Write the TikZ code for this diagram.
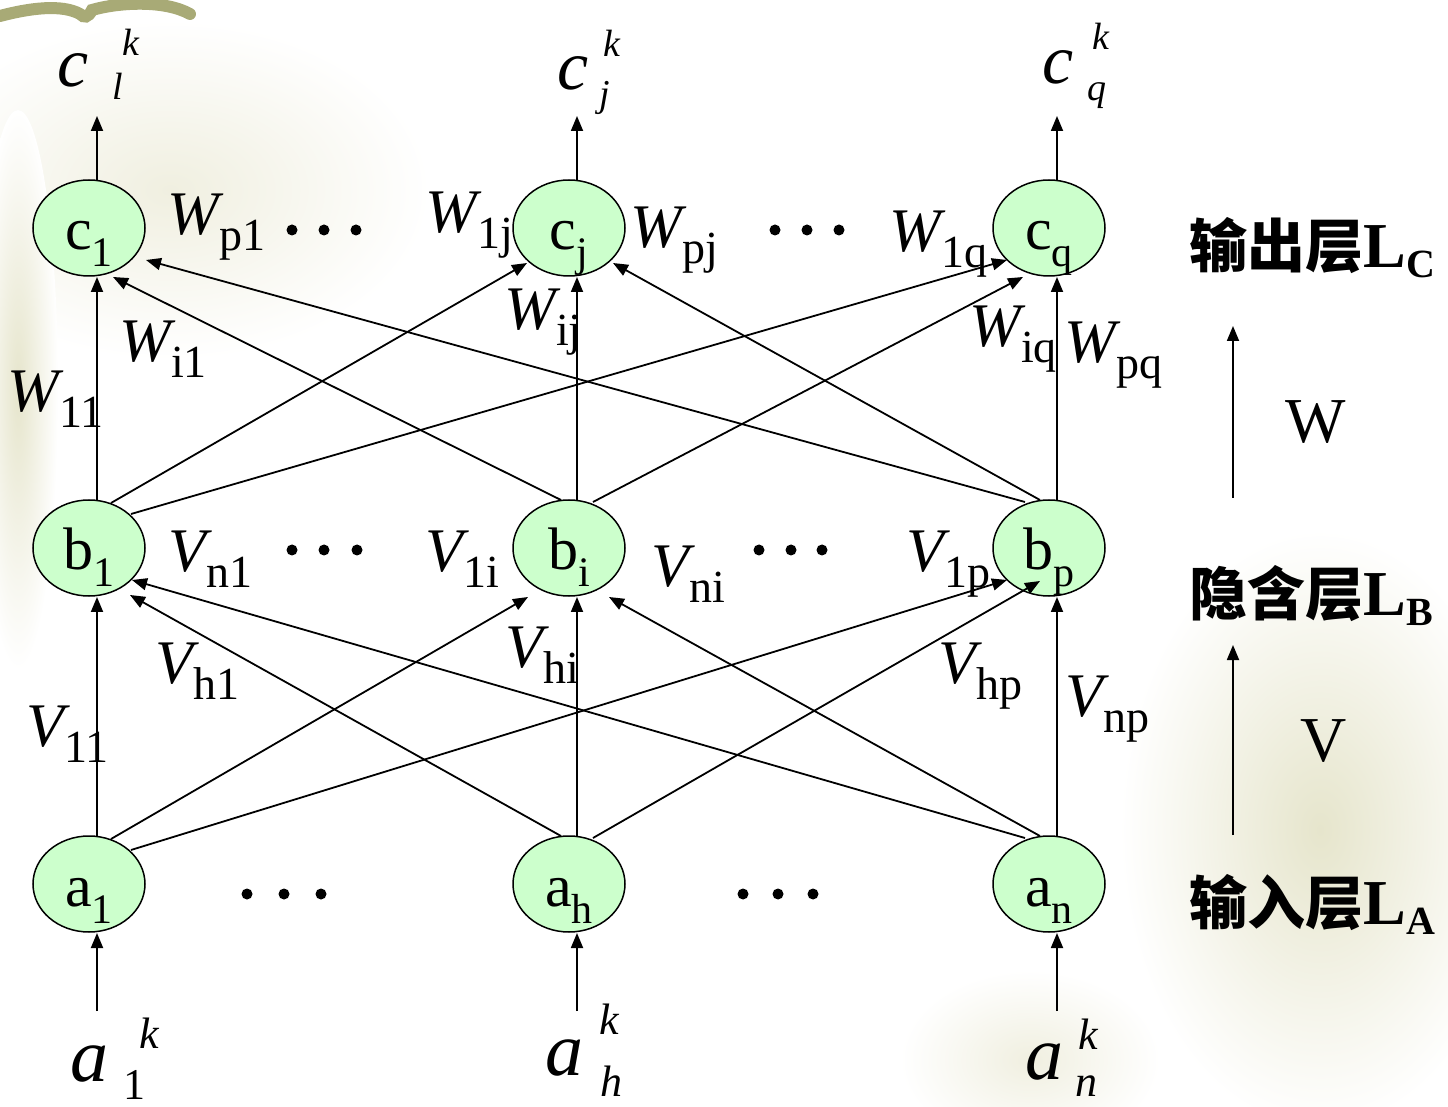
\documentclass[tikz,border=0pt]{standalone}
\usepackage{fontspec}
\setmainfont{Liberation Serif}
\newfontfamily\cjk{Noto Sans CJK SC}
\usetikzlibrary{arrows.meta,calc,shapes.geometric}
\definecolor{nfill}{RGB}{204,255,204}
\definecolor{bgbeige}{RGB}{230,229,204}
\definecolor{bgpale}{RGB}{240,239,224}
\definecolor{brush}{RGB}{168,170,118}
\newcommand\nt[2]{{\fontsize{30}{30}\selectfont #1}\raisebox{-8.5pt}{\fontsize{21}{21}\selectfont #2}}
\newcommand\wt[2]{{\fontsize{31}{31}\selectfont\itshape #1}\raisebox{-8pt}{\fontsize{23}{23}\selectfont #2}}
\newcommand\lay[2]{{\cjk\bfseries\fontsize{29}{29}\selectfont #1}{\bfseries\fontsize{32}{32}\selectfont L}\raisebox{-5pt}{\bfseries\fontsize{20}{20}\selectfont #2}}
\begin{document}
\begin{tikzpicture}[x=0.5pt,y=-0.5pt,
  neuron/.style={ellipse,draw=black,line width=0.75pt,fill=nfill,minimum width=56pt,minimum height=48pt,inner sep=0pt,text height=22pt,text depth=0pt},
  arr/.style={line width=0.9pt,-{Triangle[length=7.5pt,width=6pt]}},
  wlab/.style={anchor=base west,inner sep=0pt},
  bigg/.style={anchor=center,inner sep=0pt,font=\fontsize{35}{35}\selectfont\itshape},
  bigga/.style={anchor=center,inner sep=0pt,font=\fontsize{38}{38}\selectfont\itshape},
  smallg/.style={anchor=center,inner sep=0pt,font=\fontsize{19}{19}\selectfont\itshape},
  smallga/.style={anchor=center,inner sep=0pt,font=\fontsize{22}{22}\selectfont\itshape},
  dotc/.style={fill=black},
  blob/.style={inner color=#1,outer color=white}]
\useasboundingbox (0,0) rectangle (1448,1107);
\fill[white] (0,0) rectangle (1448,1107);
% faint background
\shade[blob=bgpale] (170,190) ellipse[x radius=260,y radius=170];
\shade[blob=bgbeige] (18,390) ellipse[x radius=40,y radius=280];
\shade[blob=bgbeige] (1320,830) ellipse[x radius=200,y radius=300];
\shade[blob=bgpale] (1030,1060) ellipse[x radius=130,y radius=90];
\draw[brush,line width=6pt,line cap=round] (0,16) .. controls (30,8) and (62,4) .. (80,14) .. controls (84,18) and (88,18) .. (92,10) .. controls (120,2) and (165,0) .. (190,14);

% neurons
\node[neuron] (c1) at (89,228) {\nt{c}{1}};
\node[neuron] (cj) at (569,228) {\nt{c}{j}};
\node[neuron] (cq) at (1049,228) {\nt{c}{q}};
\node[neuron] (b1) at (89,548) {\nt{b}{1}};
\node[neuron] (bi) at (569,548) {\nt{b}{i}};
\node[neuron] (bp) at (1049,548) {\nt{b}{p}};
\node[neuron] (a1) at (89,884) {\nt{a}{1}};
\node[neuron] (ah) at (569,884) {\nt{a}{h}};
\node[neuron] (an) at (1049,884) {\nt{a}{n}};

% hidden -> output
\draw[arr] ($(b1)+(8,-48)$) -- ($(c1)+(8,49)$);
\draw[arr] ($(b1)+(22,-45)$) -- ($(cj)+(-42,35)$);
\draw[arr] ($(b1)+(42,-34)$) -- ($(cq)+(-42,32)$);
\draw[arr] ($(bi)+(-8,-48)$) -- ($(c1)+(24,49)$);
\draw[arr] ($(bi)+(8,-48)$) -- ($(cj)+(8,49)$);
\draw[arr] ($(bi)+(24,-46)$) -- ($(cq)+(-26,49)$);
\draw[arr] ($(bp)+(-24,-46)$) -- ($(c1)+(57,32)$);
\draw[arr] ($(bp)+(-9,-48)$) -- ($(cj)+(44,35)$);
\draw[arr] ($(bp)+(8,-48)$) -- ($(cq)+(8,49)$);

% input -> hidden
\draw[arr] ($(a1)+(8,-48)$) -- ($(b1)+(8,49)$);
\draw[arr] ($(a1)+(22,-45)$) -- ($(bi)+(-41,49)$);
\draw[arr] ($(a1)+(42,-34)$) -- ($(bp)+(-42,32)$);
\draw[arr] ($(ah)+(-8,-48)$) -- ($(b1)+(41,47)$);
\draw[arr] ($(ah)+(8,-48)$) -- ($(bi)+(8,49)$);
\draw[arr] ($(ah)+(24,-46)$) -- ($(bp)+(-9,33)$);
\draw[arr] ($(an)+(-24,-46)$) -- ($(b1)+(43,32)$);
\draw[arr] ($(an)+(-9,-48)$) -- ($(bi)+(40,49)$);
\draw[arr] ($(an)+(8,-48)$) -- ($(bp)+(8,49)$);

% outputs and inputs
\coordinate (oc1) at (97,116);
\coordinate (ocj) at (577,116);
\coordinate (ocq) at (1057,116);
\coordinate (ia1) at (97,1011);
\coordinate (iah) at (577,1011);
\coordinate (ian) at (1057,1011);
\draw[arr] ($(c1)+(8,-48)$) -- (oc1);
\draw[arr] ($(cj)+(8,-48)$) -- (ocj);
\draw[arr] ($(cq)+(8,-48)$) -- (ocq);
\draw[arr] (ia1) -- ($(a1)+(8,49)$);
\draw[arr] (iah) -- ($(ah)+(8,49)$);
\draw[arr] (ian) -- ($(an)+(8,49)$);

% top labels
\node[bigg] (tc1) at (73,70) {c};
\node[smallg] (tc1k) at (131,42) {k};
\node[smallg] (tc1l) at (118,86) {l};
\node[bigg] (tcj) at (573,73) {c};
\node[smallg] (tcjk) at (612,43) {k};
\node[smallg] (tcjj) at (605,98) {j};
\node[bigg] (tcq) at (1058,67) {c};
\node[smallg] (tcqk) at (1101,36) {k};
\node[smallg] (tcqq) at (1097,96) {q};
% bottom labels
\node[bigga] (ba1) at (89,1064) {a};
\node[smallga] (ba1k) at (149,1033) {k};
\node[smallga,font=\fontsize{22}{22}\selectfont] (ba11) at (134,1085) {1};
\node[bigga] (bah) at (564,1058) {a};
\node[smallga] (bahk) at (609,1019) {k};
\node[smallga] (bahh) at (611,1081) {h};
\node[bigga] (ban) at (1044,1062) {a};
\node[smallga] (bank) at (1088,1034) {k};
\node[smallga] (bann) at (1086,1086) {n};

% weight labels W
\node[wlab] (lwp1) at (167,235) {\wt{W}{p1}};
\node[wlab] (lw1j) at (425,233) {\wt{W}{1j}};
\node[wlab] (lwpj) at (630,248) {\wt{W}{pj}};
\node[wlab] (lw1q) at (889,252) {\wt{W}{1q}};
\node[wlab] (lw11) at (7,412) {\wt{W}{11}};
\node[wlab] (lwi1) at (119,362) {\wt{W}{i1}};
\node[wlab] (lwij) at (504,330) {\wt{W}{ij}};
\node[wlab] (lwiq) at (969,347) {\wt{W}{iq}};
\node[wlab] (lwpq) at (1064,363) {\wt{W}{pq}};
% weight labels V
\node[wlab] (lvn1) at (168,572) {\wt{V}{n1}};
\node[wlab] (lv1i) at (425,572) {\wt{V}{1i}};
\node[wlab] (lvh1) at (155,683) {\wt{V}{h1}};
\node[wlab] (lv11) at (26,747) {\wt{V}{11}};
\node[wlab] (lvni) at (651,587) {\wt{V}{ni}};
\node[wlab] (lvhi) at (505,668) {\wt{V}{hi}};
\node[wlab] (lv1p) at (906,572) {\wt{V}{1p}};
\node[wlab] (lvhp) at (938,683) {\wt{V}{hp}};
\node[wlab] (lvnp) at (1065,717) {\wt{V}{np}};

% dots
\foreach \x in {292,324,356,775,807,839} \fill[dotc] (\x,230) circle[radius=5.5];
\foreach \x in {292,324,357,759,791,822} \fill[dotc] (\x,550) circle[radius=5.5];
\foreach \x in {247,284,321,743,778,813} \fill[dotc] (\x,894) circle[radius=5.5];

% layer labels
\node[wlab] (lc) at (1189,268) {\lay{输出层}{C}};
\node[wlab] (lb) at (1189,616) {\lay{隐含层}{B}};
\node[wlab] (la) at (1189,924) {\lay{输入层}{A}};
\coordinate (wlo) at (1233,498);
\coordinate (whi) at (1233,326);
\coordinate (vlo) at (1233,835);
\coordinate (vhi) at (1233,645);
\draw[arr] (wlo) -- (whi);
\draw[arr] (vlo) -- (vhi);
\node[anchor=base,inner sep=0pt,font=\fontsize{32}{32}\selectfont] (lw) at (1316,443) {W};
\node[anchor=base,inner sep=0pt,font=\fontsize{32}{32}\selectfont] (lv) at (1324,762) {V};
\end{tikzpicture}
\end{document}
